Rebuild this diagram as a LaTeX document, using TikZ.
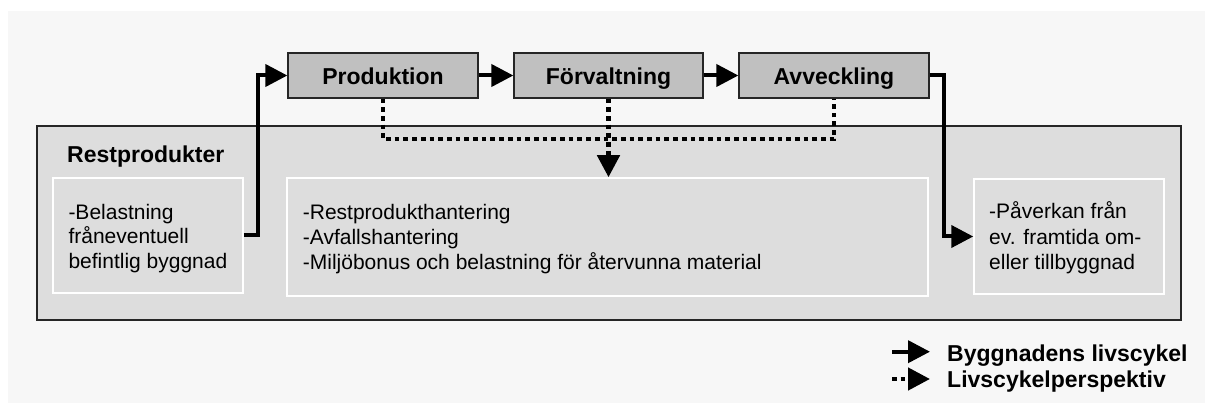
\documentclass[tikz,border=0pt]{standalone}
\usepackage{fontspec}
\setmainfont{Liberation Sans}
\usetikzlibrary{arrows.meta}
\definecolor{panelc}{HTML}{F7F7F7}
\definecolor{mainc}{HTML}{DDDDDD}
\definecolor{topc}{HTML}{C0C0C0}
\tikzset{
  topbox/.style={draw=black!85, line width=1.3pt, fill=topc, minimum width=190pt, minimum height=45pt, inner sep=0pt, font=\fontsize{23}{27}\selectfont\bfseries, text height=18pt, text depth=0pt},
  mainbox/.style={draw=black!85, line width=1.6pt, fill=mainc, inner sep=0pt},
  innerbox/.style={draw=white, line width=1.5pt, fill=mainc, inner sep=0pt},
  txt/.style={anchor=base west, inner sep=0pt, font=\fontsize{21}{25}\selectfont},
  btxt/.style={anchor=base west, inner sep=0pt, font=\fontsize{23}{27}\selectfont\bfseries},
  solidarrow/.style={line width=4pt, -{Triangle[length=22pt,width=22pt]}},
  dotline/.style={line width=4.6pt, dash pattern=on 4.7pt off 4pt},
  dotarrow/.style={dotline, -{Triangle[length=22pt,width=22pt]}}
}
\begin{document}
\begin{tikzpicture}[x=1pt,y=-1pt]
\useasboundingbox (0,0) rectangle (1205,403);
\fill[white] (0,0) rectangle (1205,403);
\fill[panelc] (8,11) rectangle (1205,403);
% main box
\node[mainbox, minimum width=1144pt, minimum height=194pt] (main) at (609,223) {};
\node[btxt] (rp) at (67,163) {Restprodukter};
% inner boxes
\node[innerbox, minimum width=190pt, minimum height=115pt] (lb) at (148,235.5) {};
\node[innerbox, minimum width=641pt, minimum height=118pt] (mid) at (607.5,237) {};
\node[innerbox, minimum width=190pt, minimum height=115pt] (rb) at (1069,236.5) {};
% texts
\node[txt] (l1) at (68.3,219.3) {-Belastning};
\node[txt] (l2) at (68.3,244) {fråneventuell};
\node[txt] (l3) at (68.3,268.7) {befintlig byggnad};
\node[txt] (m1) at (302.7,220) {-Restprodukthantering};
\node[txt] (m2) at (302.7,245) {-Avfallshantering};
\node[txt] (m3) at (302.7,270) {-Miljöbonus och belastning för återvunna material};
\node[txt] (r1) at (989,219) {-Påverkan från};
\node[txt] (r2) at (989,244.5) {ev. framtida om-};
\node[txt] (r3) at (989,270) {eller tillbyggnad};
% top boxes
\node[topbox] (prod) at (383,75.5) {Produktion};
\node[topbox, minimum width=189pt] (forv) at (608.5,75.5) {Förvaltning};
\node[topbox] (avv) at (834,75.5) {Avveckling};
% dotted connectors
\draw[dotline] (prod.south) -- ++(0,40.5) -| (avv.south);
\draw[dotarrow] (forv.south) -- (forv.south |- mid.north);
% solid connectors
\draw[solidarrow] (prod.east) -- (forv.west);
\draw[solidarrow] (forv.east) -- (avv.west);
\draw[solidarrow] (lb.east) -- ++(14,0) |- (prod.west);
\draw[solidarrow] (avv.east) -- ++(14,0) |- (rb.west);
% legend
\coordinate (la1) at (892,351.7);
\coordinate (la2) at (930,351.7);
\coordinate (lb1) at (892,379);
\coordinate (lb2) at (930,379);
\draw[solidarrow] (la1) -- (la2);
\draw[dotarrow] (lb1) -- (lb2);
\node[btxt] (lg1) at (947,361) {Byggnadens livscykel};
\node[btxt] (lg2) at (947,387) {Livscykelperspektiv};
\end{tikzpicture}
\end{document}
